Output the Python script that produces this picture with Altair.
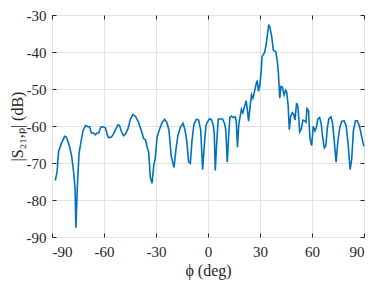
import altair as alt
import pandas as pd

phi = [-88.1, -87.1, -86.2, -84.6, -82.7, -81.7, -80.4, -78.8, -77.5, -76.7, -76.2, -75.4, -74.4,
       -73.1, -72.1, -70.6, -69.2, -68.3, -67.3, -66.0, -65.0, -64.0, -63.0, -61.9, -60.6, -59.2,
       -58.1, -57.3, -55.8, -54.8, -53.5, -51.9, -51.0, -50.0, -48.7, -47.5, -46.2, -44.8, -43.3,
       -41.7, -40.0, -38.5, -37.1, -36.0, -35.2, -34.2, -33.3, -32.3, -31.3, -30.4, -29.4, -27.9,
       -26.5, -25.0, -23.7, -22.5, -21.2, -19.6, -18.3, -17.3, -16.0, -14.4, -13.3, -12.3, -11.2,
       -10.2, -9.2, -8.1, -6.7, -5.4, -4.2, -3.1, -1.9, -1.2, -0.4,
       1.0, 2.1, 3.1, 3.6, 4.2, 5.0, 5.9, 7.3, 8.4, 9.6, 10.3, 11.1, 11.9, 12.6, 13.6, 14.6, 15.7,
       16.3, 17.0, 17.8, 18.8, 19.3, 20.1, 21.1, 22.0, 22.8, 23.4, 24.3, 25.1, 25.9, 26.6, 27.6,
       28.4, 29.1, 29.9, 30.7, 31.2, 32.6, 33.5, 34.3, 35.1, 35.8, 36.8, 37.7, 39.1, 40.0, 40.6,
       41.4, 42.1, 42.9, 43.9, 44.8, 45.4, 46.2, 46.9, 47.7, 48.7, 49.4, 50.2, 51.1, 51.9, 52.9,
       53.8, 54.8, 55.7, 56.5, 57.1, 58.0, 58.8, 59.8, 60.7, 61.7, 62.5, 63.4, 64.4, 65.3, 66.1,
       67.1, 68.0, 68.8, 69.7, 70.9, 71.8, 72.8, 73.9, 74.9, 76.1, 77.2, 78.5, 79.7, 80.8, 82.0,
       82.9, 83.9, 85.1, 86.2, 87.4, 88.5, 89.9]
s21 = [-74.7, -72.5, -66.9, -64.7, -62.8, -63.0, -64.7, -67.7, -72.5, -76.8, -87.5, -76.8, -67.3,
       -63.8, -61.2, -59.9, -60.2, -60.2, -61.9, -61.9, -62.4, -61.9, -61.9, -60.3, -60.2, -60.5,
       -62.4, -63.2, -63.0, -62.4, -61.1, -59.7, -59.9, -61.5, -62.6, -62.1, -60.8, -58.2, -56.9,
       -57.5, -59.1, -61.2, -63.4, -63.8, -65.6, -67.1, -73.8, -75.5, -70.8, -68.6, -63.0, -60.8,
       -59.1, -58.2, -59.1, -61.2, -68.2, -71.2, -65.6, -62.5, -60.4, -59.3, -61.0, -63.8, -69.7,
       -70.1, -63.8, -59.5, -58.2, -58.4, -61.2, -71.8, -63.8, -59.9, -59.0,
       -58.0, -58.4, -59.9, -62.0, -72.0, -64.6, -58.1, -58.1, -58.1, -59.4, -61.2, -69.8, -62.9,
       -57.7, -57.3, -57.7, -57.5, -58.6, -65.7, -59.4, -56.8, -55.5, -56.4, -54.7, -53.2, -56.0,
       -58.7, -54.7, -51.6, -52.5, -51.2, -49.0, -47.7, -50.6, -49.0, -45.1, -41.2, -40.2, -38.2,
       -35.2, -32.6, -33.5, -36.0, -39.5, -39.9, -42.5, -45.6, -52.5, -49.3, -49.5, -51.6, -50.3,
       -50.8, -54.2, -61.0, -57.3, -56.4, -56.8, -58.4, -53.8, -54.7, -61.6, -60.8, -58.4, -58.6,
       -59.0, -55.3, -55.8, -63.3, -65.3, -60.1, -61.3, -60.4, -58.1, -57.7, -59.4, -62.9, -65.9,
       -65.3, -60.7, -58.1, -57.5, -59.0, -63.8, -69.8, -64.2, -60.3, -58.7, -58.6, -59.9, -64.6,
       -71.8, -69.0, -61.2, -58.6, -58.6, -60.1, -62.5, -65.5]

x_ticks = [-90, -60, -30, 0, 30, 60, 90]
y_ticks = [-90, -80, -70, -60, -50, -40, -30]

df = pd.DataFrame({"phi": phi, "s21": s21})

FONT = "Liberation Serif"
TXT = "#262626"
LBL = "replace(datum.label, '\u2212', '-')"

xs = alt.Scale(domain=[-90, 90], nice=False, zero=False)
ys = alt.Scale(domain=[-90, -30], nice=False, zero=False)

main = alt.Chart(df).mark_line(color="#0072BD", strokeWidth=1.6).encode(
    x=alt.X("phi:Q", scale=xs,
            axis=alt.Axis(values=x_ticks, title="ϕ (deg)", offset=-4, tickSize=4,
                          labelPadding=7, domain=False, grid=True, gridColor="#e3e3e3",
                          labelExpr=LBL, labelFontSize=15, titleFontSize=16,
                          titlePadding=3)),
    y=alt.Y("s21:Q", scale=ys,
            axis=alt.Axis(values=y_ticks, title="|S₂₁,ₚ| (dB)", offset=-4, tickSize=4,
                          labelPadding=6, domain=False, grid=True, gridColor="#e3e3e3",
                          labelExpr=LBL, labelFontSize=15, titleFontSize=16,
                          titlePadding=1)),
)

frame = alt.Chart(df).mark_line(opacity=0).encode(
    x=alt.X("phi:Q", scale=xs,
            axis=alt.Axis(orient="top", values=x_ticks, offset=-4, tickSize=4, labels=False,
                          domain=False, grid=False, title=None)),
    y=alt.Y("s21:Q", scale=ys,
            axis=alt.Axis(orient="right", values=y_ticks, offset=-4, tickSize=4, labels=False,
                          domain=False, grid=False, title=None)),
)

chart = alt.layer(main, frame).resolve_axis(x="independent", y="independent").properties(
    width=312, height=222,
    autosize=alt.AutoSizeParams(type="none"),
    padding={"left": 44, "top": 7, "right": 2, "bottom": 48},
).configure(font=FONT).configure_axis(
    labelFont=FONT, titleFont=FONT, labelColor=TXT, titleColor=TXT, tickColor=TXT,
    titleFontWeight="normal",
).configure_view(stroke=TXT, strokeWidth=1)

chart.save("out.html", embed_options={"renderer": "svg", "actions": False})
